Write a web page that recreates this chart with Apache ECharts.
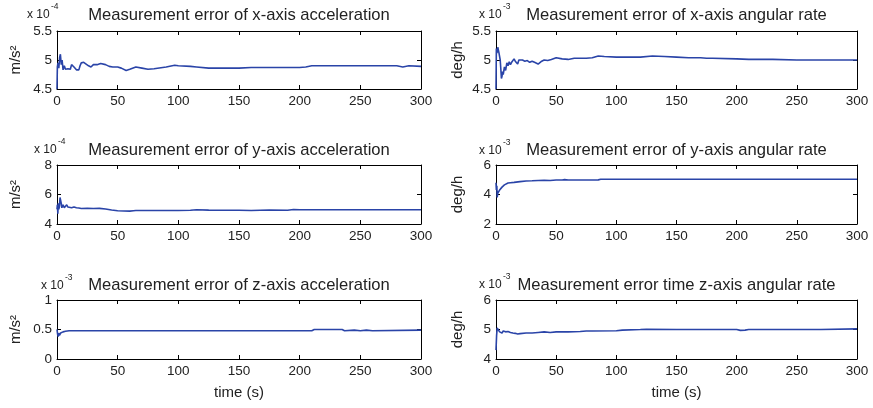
<!DOCTYPE html>
<html>
<head>
<meta charset="utf-8">
<script src="https://cdn.jsdelivr.net/npm/echarts@6/dist/echarts.min.js"></script>
<style>
  html, body { margin: 0; padding: 0; background: #fff; }
  #chart { width: 873px; height: 408px; }
</style>
</head>
<body>
<div id="chart"></div>
<script>
// x-axis acceleration (x 10^-4 m/s^2)
const accXTime = [0,0.3,0.8,1.5,2.2,2.8,3.5,4.2,5,6,7,8,9,10,11,12,13,14,15,16,17,18,19,20,21,22,24,26,28,30,33,36,40,43,46,50,53,57,60,65,70,75,80,90,97,100,110,115,125,140,150,160,180,200,205,210,220,230,240,260,280,285,290,300]
const accXVal = [4.5,4.88,4.95,4.86,5.05,5.1,4.92,5.0,4.83,4.9,4.84,4.86,4.85,4.86,4.84,4.92,4.9,4.88,4.9,4.83,4.8,4.83,4.9,4.95,4.98,4.96,4.93,4.9,4.88,4.92,4.92,4.94,4.92,4.89,4.88,4.88,4.86,4.82,4.84,4.88,4.86,4.84,4.85,4.88,4.91,4.9,4.89,4.88,4.86,4.86,4.86,4.87,4.87,4.87,4.88,4.9,4.9,4.9,4.9,4.9,4.9,4.88,4.9,4.89]

// x-axis angular rate (x 10^-3 deg/h)
const rateXTime = [0,0.3,0.8,1.5,2,2.5,3,3.5,4,4.5,5,5.5,6,7,8,9,10,11,12,13,14,15,16,17,18,19,20,22,24,26,28,30,32,35,38,40,43,46,50,55,60,65,70,75,80,85,90,100,110,120,130,140,150,160,170,175,180,200,210,230,250,270,290,300]
const rateXVal = [4.5,5.2,5.12,5.22,5.25,5.12,5.15,5.0,4.85,4.68,4.72,4.8,4.75,4.88,4.82,4.95,4.9,4.97,4.92,4.96,4.94,5.02,4.98,4.95,4.93,5.0,4.98,5.0,4.98,4.99,4.96,4.98,4.96,4.93,4.98,5.0,4.99,5.01,5.04,5.02,5.01,5.03,5.03,5.03,5.04,5.07,5.06,5.05,5.05,5.05,5.07,5.06,5.05,5.04,5.04,5.03,5.03,5.02,5.01,5.01,5.0,5.0,5.0,5.0]

// y-axis acceleration (x 10^-4 m/s^2)
const accYTime = [0,0.3,0.7,1,1.5,2,2.5,3,3.5,4,5,6,7,8,9,10,12,14,16,18,20,25,30,35,40,45,50,55,60,63,65,70,80,100,110,115,125,130,150,160,175,190,195,200,250,300]
const accYVal = [5.0,5.3,4.7,5.4,5.0,5.2,5.8,5.85,5.4,5.1,5.3,5.1,5.2,5.3,5.15,5.12,5.1,5.15,5.1,5.08,5.05,5.06,5.05,5.06,5.02,4.95,4.9,4.88,4.87,4.9,4.92,4.92,4.92,4.92,4.93,4.97,4.94,4.93,4.93,4.92,4.95,4.93,4.98,4.97,4.97,4.97]

// y-axis angular rate (x 10^-3 deg/h)
const rateYTime = [0,0.3,0.7,1,1.5,2,2.5,3,4,5,6,7,8,10,12,15,20,25,30,35,40,45,50,55,57,60,70,80,85,87,100,150,200,250,300]
const rateYVal = [4.8,4.3,4.6,3.8,4.1,4.2,4.0,4.3,4.4,4.5,4.6,4.65,4.75,4.78,4.8,4.82,4.87,4.92,4.93,4.95,4.97,4.95,4.98,4.98,5.01,4.98,4.98,4.98,4.99,5.03,5.03,5.03,5.03,5.03,5.03]

// z-axis acceleration (x 10^-3 m/s^2)
const accZTime = [0,0.5,1,1.5,2,3,4,5,7,10,15,20,50,60,100,150,200,210,212,235,237,245,250,255,260,300]
const accZVal = [0.5,0.42,0.38,0.44,0.4,0.44,0.45,0.46,0.47,0.48,0.48,0.48,0.48,0.48,0.48,0.48,0.48,0.48,0.5,0.5,0.48,0.49,0.48,0.49,0.48,0.49]

// z-axis angular rate (x 10^-3 deg/h)
const rateZTime = [0,0.5,1,1.5,2,2.5,3,4,5,6,7,8,9,10,12,14,16,18,20,25,30,35,40,45,50,55,60,70,75,80,100,105,120,125,150,200,203,207,210,250,270,300]
const rateZVal = [4.3,4.8,5.05,5.1,5.0,5.08,4.92,4.98,4.88,4.95,4.9,4.92,4.87,4.93,4.9,4.88,4.87,4.85,4.86,4.88,4.88,4.9,4.92,4.9,4.92,4.92,4.92,4.93,4.95,4.95,4.96,4.98,5.0,5.01,5.0,5.0,4.97,4.98,5.0,5.0,5.0,5.02]

const panels = [
  { title: 'Measurement error of x-axis acceleration', unit: 'm/s²', exp: '-4', t: accXTime, v: accXVal, min: 4.5, max: 5.5, step: 0.5 },
  { title: 'Measurement error of x-axis angular rate', unit: 'deg/h', exp: '-3', t: rateXTime, v: rateXVal, min: 4.5, max: 5.5, step: 0.5 },
  { title: 'Measurement error of y-axis acceleration', unit: 'm/s²', exp: '-4', t: accYTime, v: accYVal, min: 4, max: 8, step: 2 },
  { title: 'Measurement error of y-axis angular rate', unit: 'deg/h', exp: '-3', t: rateYTime, v: rateYVal, min: 2, max: 6, step: 2 },
  { title: 'Measurement error of z-axis acceleration', unit: 'm/s²', exp: '-3', t: accZTime, v: accZVal, min: 0, max: 1, step: 0.5 },
  { title: 'Measurement error time z-axis angular rate', unit: 'deg/h', exp: '-3', t: rateZTime, v: rateZVal, min: 4, max: 6, step: 1 }
]

const FONT = 'Liberation Sans, Arial, sans-serif'
const TXT = '#222'
const LINE = '#2a44a8'

// layout of the 2x3 grid (pixels)
const cols = [{ left: 57, width: 364 }, { left: 496, width: 361 }]
const rows = [{ top: 31, height: 58 }, { top: 165, height: 59 }, { top: 300, height: 59 }]
const expPos = [
  [{ x: 27, y: 15 }, { x: 479, y: 15 }],
  [{ x: 34, y: 150 }, { x: 479, y: 151 }],
  [{ x: 41, y: 286 }, { x: 479, y: 285 }]
]
const titleY = [15, 150, 285]

const grid = []
const xAxis = []
const yAxis = []
const series = []
const graphic = []

panels.forEach((p, i) => {
  const r = Math.floor(i / 2)
  const c = i % 2
  const g = { left: cols[c].left, width: cols[c].width, top: rows[r].top, height: rows[r].height }
  grid.push(g)

  const tickStyle = { show: true, inside: true, length: 4, lineStyle: { color: '#000' } }
  const lineStyle = { show: true, onZero: false, lineStyle: { color: '#000', width: 1 } }

  xAxis.push({
    type: 'value', gridIndex: i, min: 0, max: 300, interval: 50,
    axisLine: lineStyle, axisTick: tickStyle, splitLine: { show: false },
    axisLabel: { color: TXT, fontSize: 13.5, fontFamily: FONT, margin: 5 }
  })
  xAxis.push({
    type: 'value', gridIndex: i, position: 'top', min: 0, max: 300, interval: 50,
    axisLine: lineStyle, axisTick: tickStyle, splitLine: { show: false }, axisLabel: { show: false }
  })
  yAxis.push({
    type: 'value', gridIndex: i, min: p.min, max: p.max, interval: p.step,
    axisLine: lineStyle, axisTick: tickStyle, splitLine: { show: false },
    axisLabel: { color: TXT, fontSize: 13.5, fontFamily: FONT, margin: 5 }
  })
  yAxis.push({
    type: 'value', gridIndex: i, position: 'right', min: p.min, max: p.max, interval: p.step,
    axisLine: lineStyle, axisTick: tickStyle, splitLine: { show: false }, axisLabel: { show: false }
  })

  series.push({
    type: 'line', xAxisIndex: i * 2, yAxisIndex: i * 2,
    data: p.t.map((t, k) => [t, p.v[k]]),
    showSymbol: false, symbol: 'none', animation: false,
    lineStyle: { color: LINE, width: 1.6 }
  })

  // title
  graphic.push({
    type: 'text', x: g.left + g.width / 2, y: titleY[r],
    style: { text: p.title, fontSize: 16.6, fontFamily: FONT, fill: TXT, align: 'center', verticalAlign: 'middle' }
  })
  // exponent "x 10^-n"
  const e = expPos[r][c]
  graphic.push({
    type: 'text', x: e.x, y: e.y,
    style: { text: 'x 10', fontSize: 12, fontFamily: FONT, fill: TXT, verticalAlign: 'middle' }
  })
  graphic.push({
    type: 'text', x: e.x + 24, y: e.y - 8,
    style: { text: p.exp, fontSize: 8.5, fontFamily: FONT, fill: TXT, verticalAlign: 'middle' }
  })
  // y-axis unit
  graphic.push({
    type: 'text', x: c === 0 ? 16 : 458, y: g.top + g.height / 2, rotation: Math.PI / 2,
    style: { text: p.unit, fontSize: 15, fontFamily: FONT, fill: TXT, align: 'center', verticalAlign: 'middle' }
  })
  // x-axis name under bottom row
  if (r === 2) {
    graphic.push({
      type: 'text', x: g.left + g.width / 2, y: 393,
      style: { text: 'time (s)', fontSize: 15, fontFamily: FONT, fill: TXT, align: 'center', verticalAlign: 'middle' }
    })
  }
})

const chart = echarts.init(document.getElementById('chart'))
chart.setOption({
  backgroundColor: '#fff',
  animation: false,
  grid, xAxis, yAxis, series, graphic
})
window.addEventListener('resize', () => chart.resize())
</script>
</body>
</html>
